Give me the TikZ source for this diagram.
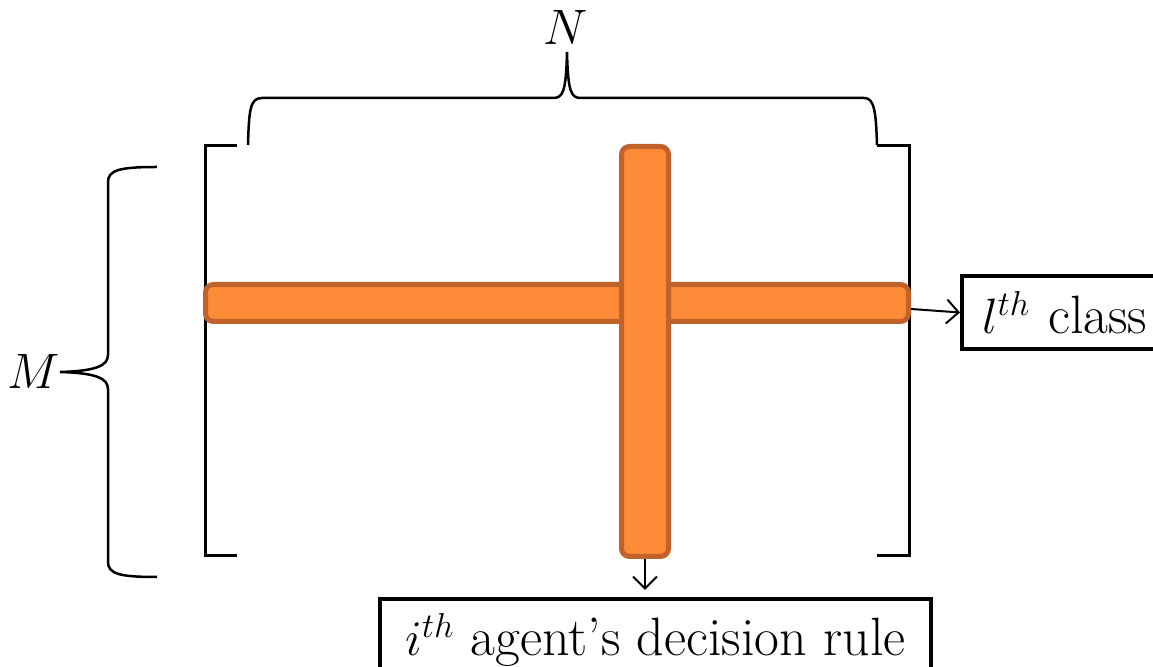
\documentclass[tikz,border=0pt]{standalone}
\usepackage{amsmath,amssymb}
\usepackage{tikz}
\usetikzlibrary{arrows.meta}
\definecolor{barfill}{HTML}{FD8A37}
\definecolor{bardraw}{HTML}{C1622B}
\newcommand{\boxfont}{\fontsize{27}{32}\selectfont}
\tikzset{
	bar/.style={draw=bardraw, fill=barfill, line width=2.5pt, rounded corners=4pt, inner sep=0pt},
	labelbox/.style={draw, line width=2pt, inner ysep=0pt, inner xsep=10pt, font=\boxfont},
	pointer/.style={-{Straight Barb[length=6pt,width=12pt]}, line width=1pt},
	bracket/.style={line width=1.5pt},
	bracepath/.style={line width=1.25pt}
}
\newcommand{\matbracket}[2]{
	\draw[bracket] (#1,146) -- (#2,146) -- (#2,556) -- (#1,556);
}
\begin{document}
\begin{tikzpicture}[x=0.5pt,y=-0.5pt]
	\useasboundingbox (0,0) rectangle (1153,667);
	\matbracket{237}{205.5}
	\matbracket{877}{909}

	\draw[bracepath] (248,145) .. controls (249,110) and (250,98) .. (262,98) -- (553,98)
		.. controls (563,98) and (566,92) .. (567,52)
		.. controls (568,92) and (571,98) .. (581,98) -- (864,98)
		.. controls (874,98) and (876,110) .. (877,145);
	\draw[bracepath] (157,167) .. controls (120,167) and (108,170) .. (108,182) -- (108,355)
		.. controls (108,366) and (95,371) .. (60,372)
		.. controls (95,373) and (108,378) .. (108,389) -- (108,562)
		.. controls (108,574) and (120,577) .. (157,577);

	\node[font=\Huge] (ncols) at (566,28) {$N$};
	\node[font=\Huge] (mrows) at (34,372) {$M$};

	\node[bar, minimum width=351.5pt, minimum height=18.5pt] (hbar) at (557,303) {};
	\node[bar, minimum width=23.5pt, minimum height=205pt] (vbar) at (645,351.5) {};

	\node[labelbox, anchor=west, minimum height=36.5pt, text width=88pt, align=left] (lclass) at (960,312.5) {$l^{th}$ class};
	\node[labelbox, anchor=north, minimum width=275.75pt, minimum height=41pt] (irule) at (655.5,597) {$i^{th}$ agent's decision rule};

	\draw[pointer] ([yshift=-3pt]hbar.east) -- (lclass.west);
	\draw[pointer, shorten >=3.5pt] (vbar.south) -- (vbar.south |- irule.north);
\end{tikzpicture}
\end{document}
